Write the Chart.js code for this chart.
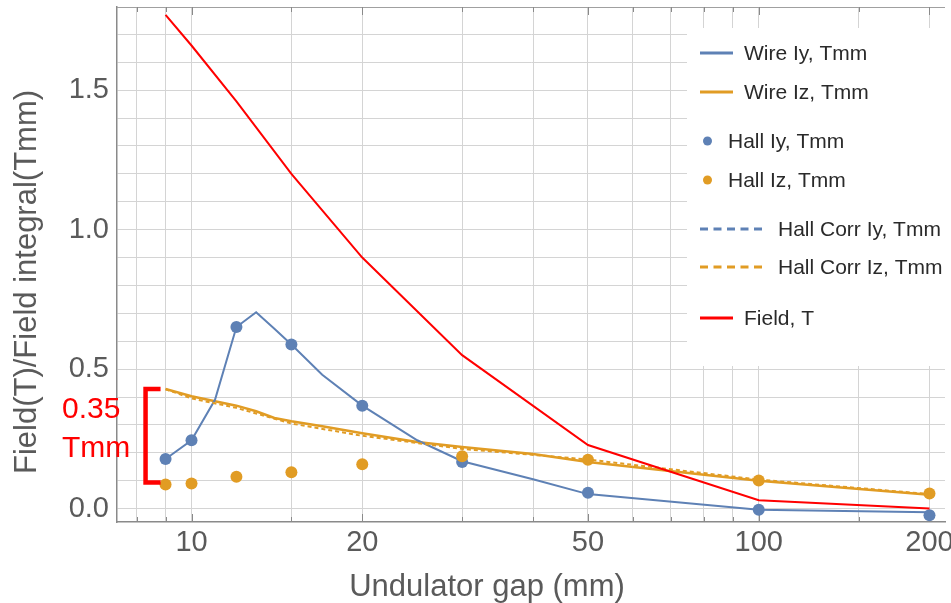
<!DOCTYPE html>
<html>
<head>
<meta charset="utf-8">
<script src="https://cdn.jsdelivr.net/npm/chart.js@4.4.1/dist/chart.umd.min.js"></script>
<style>
  html, body { margin: 0; padding: 0; background: #fff; }
  #wrap { width: 951px; height: 603px; position: relative; }
</style>
</head>
<body>
<div id="wrap"><canvas id="gapChart"></canvas></div>
<script>
// undulator gap (mm)
const wireGap = [9, 10, 11, 12, 13, 14, 15, 17, 20, 25, 30, 40, 50, 100, 200];
const wireIy  = [0.178, 0.245, 0.39, 0.651, 0.704, 0.645, 0.588, 0.48, 0.369, 0.245, 0.17, 0.105, 0.052, -0.004, -0.013];
const wireIz  = [0.429, 0.403, 0.385, 0.369, 0.349, 0.325, 0.313, 0.295, 0.270, 0.239, 0.221, 0.196, 0.167, 0.100, 0.050];

const hallGap = [9, 10, 12, 15, 20, 30, 50, 100, 200];
const hallIy  = [0.178, 0.245, 0.651, 0.588, 0.369, 0.167, 0.057, -0.004, -0.024];
const hallIz  = [0.086, 0.090, 0.114, 0.130, 0.159, 0.188, 0.175, 0.101, 0.054];
const corrIy  = [];
const corrIz  = [0.428, 0.395, 0.361, 0.305, 0.261, 0.214, 0.176, 0.104, 0.052];

const fieldGap = [9, 10, 12, 15, 20, 30, 50, 100, 200];
const fieldT   = [1.77, 1.66, 1.46, 1.20, 0.90, 0.55, 0.228, 0.030, 0.0];

const xGrid   = [8, 9, 10, 15, 20, 30, 40, 50, 60, 70, 80, 90, 100, 150, 200];
const xLabels = [10, 20, 50, 100, 200];
const yGrid   = [0, 0.1, 0.2, 0.3, 0.4, 0.5, 0.6, 0.7, 0.8, 0.9, 1.0, 1.1, 1.2, 1.3, 1.4, 1.5, 1.6, 1.7];
const yLabels = [0, 0.5, 1.0, 1.5];

const BLUE = '#5e81b5', ORANGE = '#e19c24', RED = '#ff0000';
const FONT = "'Liberation Sans', Arial, sans-serif";

const pts = (xs, ys) => ys.map((v, i) => ({ x: xs[i], y: v }));

const datasets = [
  { label: 'Wire Iy, Tmm', data: pts(wireGap, wireIy), showLine: true, borderColor: BLUE, borderWidth: 2, pointRadius: 0, order: 4, kind: 'line' },
  { label: 'Wire Iz, Tmm', data: pts(wireGap, wireIz), showLine: true, borderColor: ORANGE, borderWidth: 2.5, pointRadius: 0, order: 4, kind: 'line' },
  { label: 'Hall Iy, Tmm', data: pts(hallGap, hallIy), showLine: false, backgroundColor: BLUE, borderWidth: 0, pointRadius: 6, order: 2, kind: 'dot' },
  { label: 'Hall Iz, Tmm', data: pts(hallGap, hallIz), showLine: false, backgroundColor: ORANGE, borderWidth: 0, pointRadius: 6, order: 1, kind: 'dot' },
  { label: 'Hall Corr Iy, Tmm', data: pts(hallGap, corrIy), showLine: true, borderColor: BLUE, borderWidth: 2, borderDash: [4, 3], pointRadius: 0, order: 3, kind: 'dash' },
  { label: 'Hall Corr Iz, Tmm', data: pts(hallGap, corrIz), showLine: true, borderColor: ORANGE, borderWidth: 2, borderDash: [4, 3], pointRadius: 0, order: 3, kind: 'dash' },
  { label: 'Field, T', data: pts(fieldGap, fieldT), showLine: true, borderColor: RED, borderWidth: 2, pointRadius: 0, order: 0, kind: 'line' }
];

// legend rows (y centre of each entry)
const legendRows = [53, 92, 141, 180, 229, 267, 318];

const extras = {
  id: 'extras',
  beforeDatasetsDraw(chart) {
    const { ctx, chartArea: a, scales: { x } } = chart;
    ctx.save();
    // frame top
    ctx.strokeStyle = '#a0a0a0';
    ctx.lineWidth = 1;
    ctx.beginPath();
    ctx.moveTo(a.left, a.top + 0.5);
    ctx.lineTo(a.right, a.top + 0.5);
    ctx.stroke();
    // inward ticks
    ctx.strokeStyle = '#8a8a8a';
    xGrid.forEach(v => {
      const px = Math.round(x.getPixelForValue(v)) + 0.5;
      const len = xLabels.includes(v) ? 8 : 5;
      ctx.beginPath();
      ctx.moveTo(px, a.bottom);
      ctx.lineTo(px, a.bottom - len);
      ctx.moveTo(px, a.top);
      ctx.lineTo(px, a.top + len);
      ctx.stroke();
    });
    // legend box
    ctx.fillStyle = '#fff';
    ctx.fillRect(687, 28, 951 - 687, 366 - 28);
    ctx.font = '21px ' + FONT;
    ctx.textBaseline = 'middle';
    chart.data.datasets.forEach((ds, i) => {
      const cy = legendRows[i];
      let tx = 744;
      ctx.beginPath();
      if (ds.kind === 'dot') {
        ctx.fillStyle = ds.backgroundColor;
        ctx.arc(707.5, cy, 4.5, 0, Math.PI * 2);
        ctx.fill();
        tx = 728;
      } else {
        ctx.strokeStyle = ds.borderColor;
        ctx.lineWidth = 3;
        if (ds.kind === 'dash') {
          ctx.setLineDash([8, 5.5]);
          ctx.moveTo(700, cy);
          ctx.lineTo(764, cy);
          tx = 778;
        } else {
          ctx.moveTo(700, cy);
          ctx.lineTo(733, cy);
        }
        ctx.stroke();
        ctx.setLineDash([]);
      }
      ctx.fillStyle = '#2a2a2a';
      ctx.fillText(ds.label, tx, cy + 1);
    });
    ctx.restore();
  },
  afterDatasetsDraw(chart) {
    const { ctx, scales: { x, y } } = chart;
    ctx.save();
    // 0.35 Tmm bracket between wire Iz and Hall Iz at the smallest gap
    const top = y.getPixelForValue(wireIz[0]);
    const bot = y.getPixelForValue(hallIz[0]) - 2;
    const bx = x.getPixelForValue(wireGap[0]) - 20;
    ctx.strokeStyle = RED;
    ctx.lineWidth = 4.5;
    ctx.lineJoin = 'miter';
    ctx.beginPath();
    ctx.moveTo(bx + 15, top);
    ctx.lineTo(bx, top);
    ctx.lineTo(bx, bot);
    ctx.lineTo(bx + 15, bot);
    ctx.stroke();
    ctx.fillStyle = RED;
    ctx.font = '30px ' + FONT;
    ctx.textBaseline = 'alphabetic';
    ctx.fillText('0.35', 62, 418);
    ctx.fillText('Tmm', 62, 457);
    // axis titles
    ctx.fillStyle = '#5a5a5a';
    ctx.font = '31px ' + FONT;
    ctx.textAlign = 'center';
    ctx.fillText('Undulator gap (mm)', 487, 596);
    ctx.translate(36, 282);
    ctx.rotate(-Math.PI / 2);
    ctx.fillText('Field(T)/Field integral(Tmm)', 0, 0);
    ctx.restore();
  }
};

new Chart(document.getElementById('gapChart'), {
  type: 'scatter',
  data: { datasets },
  options: {
    responsive: true,
    maintainAspectRatio: false,
    animation: false,
    layout: { padding: { top: 7, left: 0, right: 0, bottom: 0 } },
    plugins: { legend: { display: false }, tooltip: { enabled: false } },
    scales: {
      x: {
        type: 'logarithmic',
        min: 7.39,
        max: 213,
        afterBuildTicks: s => { s.ticks = xGrid.map(v => ({ value: v })); },
        afterFit: s => { s.height = 81; s.paddingLeft = 0; s.paddingRight = 0; },
        grid: { color: '#d4d4d4', drawTicks: false },
        border: { color: '#8a8a8a', width: 1.5 },
        ticks: {
          autoSkip: false, maxRotation: 0, padding: 4,
          color: '#5a5a5a', font: { size: 29, family: FONT },
          callback: v => xLabels.includes(v) ? String(v) : ''
        }
      },
      y: {
        type: 'linear',
        min: -0.048,
        max: 1.798,
        afterBuildTicks: s => { s.ticks = yGrid.map(v => ({ value: v })); },
        afterFit: s => { s.width = 117; s.paddingTop = 0; s.paddingBottom = 0; },
        grid: { color: '#d4d4d4', drawTicks: false },
        border: { color: '#8a8a8a', width: 1.5 },
        ticks: {
          autoSkip: false, padding: 8,
          color: '#5a5a5a', font: { size: 29, family: FONT },
          callback: v => yLabels.some(l => Math.abs(l - v) < 1e-9) ? v.toFixed(1) : ''
        }
      }
    }
  },
  plugins: [extras]
});
</script>
</body>
</html>
